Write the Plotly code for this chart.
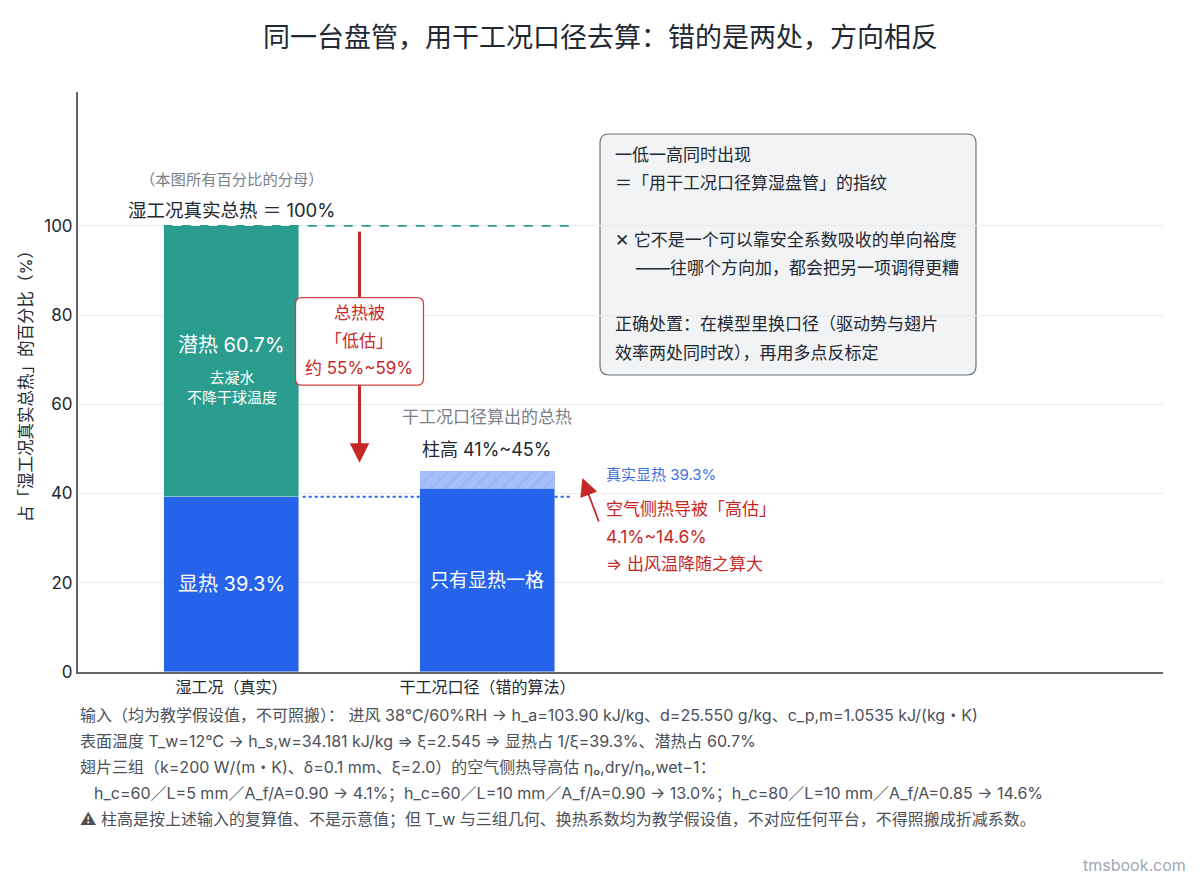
import plotly.graph_objects as go

# data (percent of the wet-coil true total heat)
categories = ["湿工况（真实）", "干工况口径（错的算法）"]
sensible = [39.3, 41.0]        # solid blue part
latent = [60.7, 0.0]           # teal part, only on the wet bar
overestimate = [0.0, 4.0]      # hatched band 41 -> 45 on the dry bar
y_ticks = [0, 20, 40, 60, 80, 100]
total_true = 100
sensible_true = 39.3
dry_low, dry_high = 41, 45
total_under = "约 55%~59%"
conductance_over = "4.1%~14.6%"

box_lines = [
    "一低一高同时出现",
    "＝「用干工况口径算湿盘管」的指纹",
    "",
    "✕ 它不是一个可以靠安全系数吸收的单向裕度",
    "——往哪个方向加，都会把另一项调得更糟",
    "",
    "正确处置：在模型里换口径（驱动势与翅片",
    "效率两处同时改），再用多点反标定",
]
notes = [
    "输入（均为教学假设值，不可照搬）： 进风 38℃/60%RH → h_a=103.90 kJ/kg、d=25.550 g/kg、c_p,m=1.0535 kJ/(kg・K)",
    "表面温度 T_w=12℃ → h_s,w=34.181 kJ/kg ⇒ ξ=2.545 ⇒ 显热占 1/ξ=39.3%、潜热占 60.7%",
    "翅片三组（k=200 W/(m・K)、δ=0.1 mm、ξ=2.0）的空气侧热导高估 ηₒ,dry/ηₒ,wet−1：",
    "h_c=60／L=5 mm／A_f/A=0.90 → 4.1%；h_c=60／L=10 mm／A_f/A=0.90 → 13.0%；h_c=80／L=10 mm／A_f/A=0.85 → 14.6%",
    "⚠\ufe0e 柱高是按上述输入的复算值、不是示意值；但 T_w 与三组几何、换热系数均为教学假设值，不对应任何平台，不得照搬成折减系数。",
]

FONT = "Inter, Noto Sans CJK SC"
BLUE = "#2563eb"
TEAL = "#2a9d8f"
RED = "#c62828"
DARK = "#222831"
GRAY = "#7a7f8a"

# plot area in page pixels, used to place paper-referenced items
PX0, PX1, PY0, PY1 = 78, 1163, 92, 672


def px(x):
    return (x - PX0) / (PX1 - PX0)


def py(y):
    return (PY1 - y) / (PY1 - PY0)


def rounded(x0, y0, x1, y1, rx, ry):
    return (f"M {x0+rx},{y0} L {x1-rx},{y0} Q {x1},{y0} {x1},{y0+ry} L {x1},{y1-ry} "
            f"Q {x1},{y1} {x1-rx},{y1} L {x0+rx},{y1} Q {x0},{y1} {x0},{y1-ry} "
            f"L {x0},{y0+ry} Q {x0},{y0} {x0+rx},{y0} Z")


x = [0, 1]
fig = go.Figure()
fig.add_bar(x=x, y=sensible, marker_color=BLUE, width=0.53, showlegend=False, hoverinfo="skip")
fig.add_bar(x=x, y=latent, marker_color=TEAL, width=0.53, showlegend=False, hoverinfo="skip")
fig.add_bar(x=x, y=overestimate, width=0.53, showlegend=False, hoverinfo="skip",
            marker=dict(color="rgba(37,99,235,0.42)", line_width=0,
                        pattern=dict(shape="/", fgcolor="rgba(37,99,235,0.35)", size=10, solidity=0.1)))

# reference lines
fig.add_shape(type="line", x0=-0.265, x1=1.33, y0=total_true, y1=total_true,
              line=dict(color=TEAL, width=1.6, dash="dash"))
fig.add_shape(type="line", x0=0.278, x1=1.33, y0=sensible_true, y1=sensible_true,
              line=dict(color=BLUE, width=2, dash="dot"))

# down arrow shaft, then the red box on top of it
fig.add_shape(type="line", x0=0.5, x1=0.5, y0=98.7, y1=52, line=dict(color=RED, width=3))
fig.add_shape(type="path", path=rounded(0.25, 64.3, 0.75, 83.9, 0.025, 1.4),
              fillcolor="white", line=dict(color="#d04040", width=1.3))
fig.add_annotation(x=0.5, y=46.9, ax=0.5, ay=55, xref="x", yref="y", axref="x", ayref="y",
                   text="", showarrow=True, arrowhead=2, arrowsize=1.3, arrowwidth=3, arrowcolor=RED)

# up arrow: air-side conductance overestimated
fig.add_annotation(x=1.371, y=43.5, ax=1.4375, ay=33.4, xref="x", yref="y", axref="x", ayref="y",
                   text="", showarrow=True, arrowhead=2, arrowsize=2.0, arrowwidth=1.8, arrowcolor=RED)


def note(xv, yv, text, size, color, anchor="center"):
    fig.add_annotation(x=xv, y=yv, text=text, showarrow=False, xanchor=anchor, yanchor="middle",
                       font=dict(size=size, color=color, family=FONT))


note(0, 110.5, "（本图所有百分比的分母）", 15.3, GRAY)
note(0, 103.6, f"湿工况真实总热 ＝ {total_true}%", 18.5, DARK)
note(0, 73.3, f"潜热 {latent[0]}%", 20, "white")
note(0, 63.8, "去凝水<br>不降干球温度", 15, "white")
note(0, 19.7, f"显热 {sensible[0]}%", 20, "white")
note(0.5, 80.5, "总热被", 17, RED)
note(0.5, 74.2, "「低估」", 17, RED)
note(0.5, 68.2, total_under, 17, RED)
note(1, 57.2, "干工况口径算出的总热", 17, GRAY)
note(1, 49.8, f"柱高 {dry_low}%~{dry_high}%", 18, DARK)
note(1, 20.6, "只有显热一格", 19, "white")
note(1.457, 44.2, f"真实显热 {sensible_true}%", 15, "#3b6fe0", "left")
note(1.457, 36.5, "空气侧热导被「高估」", 17, RED, "left")
note(1.457, 30.3, conductance_over, 17.5, RED, "left")
note(1.457, 24.2, "⇒ 出风温降随之算大", 17, RED, "left")

# explanation box (paper coords)
fig.add_shape(type="path", xref="paper", yref="paper",
              path=rounded(px(600), py(375), px(976), py(134), 9 / 1085, 9 / 580),
              fillcolor="#f1f3f5", line=dict(color="#6b7280", width=1.2), layer="below")
box_y = [155, 183, 211, 240, 268, 296, 324, 353]
for line, yy in zip(box_lines, box_y):
    if not line:
        continue
    xx = 634 if line.startswith("——") else 613
    fig.add_annotation(xref="paper", yref="paper", x=px(xx), y=py(yy), xanchor="left", yanchor="middle",
                       showarrow=False, text=line, font=dict(size=17, color=DARK, family=FONT))

# footnotes
for i, line in enumerate(notes):
    xx = 92 if line.startswith("h_c") else 78
    fig.add_annotation(xref="paper", yref="paper", x=px(xx), y=py(715 + 26 * i), xanchor="left",
                       yanchor="middle", showarrow=False, text=line,
                       font=dict(size=16, color="#4b5058", family=FONT))
fig.add_annotation(xref="paper", yref="paper", x=px(1188), y=py(865), xanchor="right", yanchor="middle",
                   showarrow=False, text="tmsbook.com", font=dict(size=16, color="#a0a7b4", family=FONT))

# the page adds 8px body margin, so the figure is drawn 8px smaller
fig.update_layout(
    width=1192, height=872, barmode="stack", bargap=0,
    plot_bgcolor="white", paper_bgcolor="white",
    margin=dict(l=PX0 - 8, r=1200 - PX1, t=PY0 - 8, b=880 - PY1, autoexpand=False),
    font=dict(family=FONT, color=DARK),
    title=dict(text="同一台盘管，用干工况口径去算：错的是两处，方向相反", x=0.497, xanchor="center",
               y=1 - 30 / 872, yanchor="middle", font=dict(size=27, color=DARK, family=FONT)),
)
fig.update_xaxes(range=[-0.6, 3.64], tickvals=x, ticktext=categories, showgrid=False,
                 zeroline=False, showline=True, linecolor="#666", linewidth=2,
                 tickfont=dict(size=16, color=DARK), ticks="", automargin=False)
fig.update_yaxes(range=[0, 130], tickvals=y_ticks, showgrid=True, gridcolor="#ebebeb",
                 zeroline=False, showline=True, linecolor="#666", linewidth=2,
                 tickfont=dict(size=17, color=DARK), ticks="", automargin=False,
                 title=dict(text="占「湿工况真实总热」的百分比（%）", font=dict(size=16.5, color=DARK), standoff=7))

fig.write_html("out.html")
